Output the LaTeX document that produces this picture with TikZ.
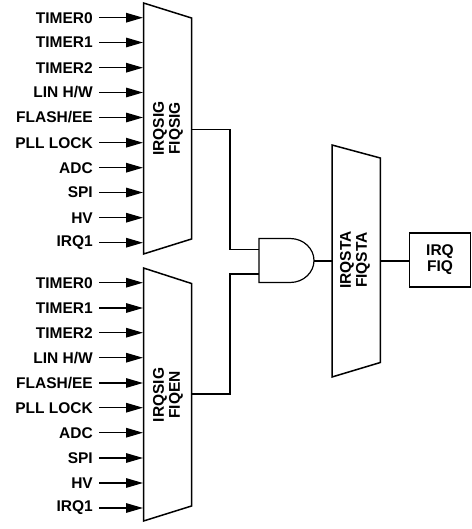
\documentclass[tikz,border=0pt]{standalone}
\usepackage{fontspec}
\setmainfont{Liberation Sans}
\usetikzlibrary{arrows.meta}
\tikzset{
  wire/.style={line width=1.5pt,line join=miter},
  sigarrow/.style={line width=1.4pt,-{Triangle[length=17pt,width=9.5pt]}},
  muxshape/.style={line width=1.5pt,line join=miter},
  gatebox/.style={line width=1.2pt},
  siglabel/.style={anchor=east,inner sep=0pt,font=\fontsize{15.5}{15.5}\selectfont\bfseries},
  muxlabel/.style={rotate=90,align=center,inner sep=0pt,font=\fontsize{15.5}{16}\selectfont\bfseries},
  outbox/.style={draw,line width=1.5pt,minimum width=61pt,minimum height=54pt,inner sep=0pt,align=center,font=\fontsize{15.5}{16}\selectfont\bfseries}
}
\begin{document}
\begin{tikzpicture}[x=1pt,y=-1pt]
\useasboundingbox (0,0) rectangle (471,529);
% muxes
\draw[muxshape] (143.5,3) -- (191.5,18) -- (191.5,239) -- (143.5,254) -- cycle;
\draw[muxshape] (143.5,268) -- (191.5,283.5) -- (191.5,506) -- (143.5,521) -- cycle;
\draw[muxshape] (332,145) -- (380.3,158) -- (380.3,362.5) -- (332,377) -- cycle;
\node[muxlabel] (m1) at (168,128.5) {IRQSIG\\FIQSIG};
\node[muxlabel] (m2) at (168,395) {IRQSIG\\FIQEN};
\node[muxlabel] (m3) at (355,260) {IRQSTA\\FIQSTA};
% inputs, upper
\foreach \y/\t [count=\i] in {17.7/TIMER0,42.5/TIMER1,67.7/TIMER2,92.5/LIN H\slash W,117.5/FLASH\slash EE,142.7/PLL LOCK,167.7/ADC,192.5/SPI,217.7/HV,242.7/IRQ1}{
  \node[siglabel] (a\i) at (93,\y) {\t};
  \coordinate (as\i) at (99,\y);
  \coordinate (ae\i) at (143,\y);
  \draw[sigarrow] (as\i) -- (ae\i);
}
% inputs, lower
\foreach \y/\t [count=\i] in {282.7/TIMER0,308/TIMER1,332.7/TIMER2,357.7/LIN H\slash W,383/FLASH\slash EE,407.7/PLL LOCK,432.7/ADC,458/SPI,483/HV,508/IRQ1}{
  \node[siglabel] (b\i) at (93,\y) {\t};
  \coordinate (bs\i) at (99,\y);
  \coordinate (be\i) at (143,\y);
  \draw[sigarrow] (bs\i) -- (be\i);
}
% AND gate
\draw[gatebox] (290,238.5) -- (259,238.5) -- (259,282.5) -- (290,282.5)
   .. controls (304,282.5) and (314,272) .. (314,260.5)
   .. controls (314,249) and (304,238.5) .. (290,238.5) -- cycle;
\coordinate (g1) at (259,249.5);
\coordinate (g2) at (259,274);
\coordinate (gout) at (314,261);
\coordinate (m1o) at (191.5,129.5);
\coordinate (m2o) at (191.5,394);
\coordinate (m3i) at (332,261);
\coordinate (m3o) at (380.3,261);
\draw[wire] (m1o) -- (230,129.5) -- (230,249.5) -- (g1);
\draw[wire] (m2o) -- (230,394) -- (230,274) -- (g2);
\draw[line width=1.2pt] (gout) -- (m3i);
\node[outbox] (out) at (440,260) {IRQ\\FIQ};
\draw[line width=1.2pt] (m3o) -- (out.west |- m3o);
\end{tikzpicture}
\end{document}
